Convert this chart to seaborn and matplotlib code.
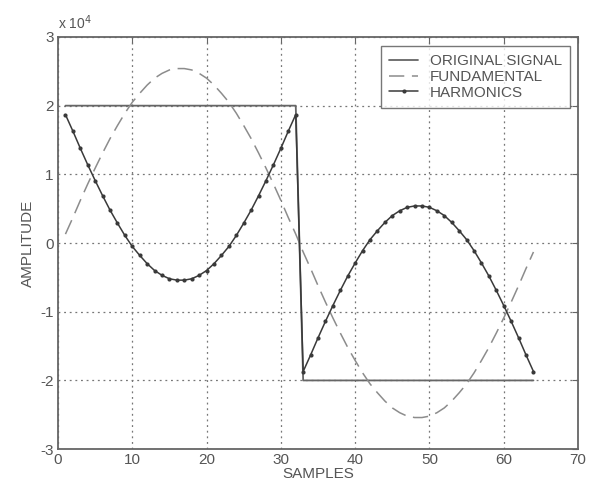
import matplotlib
matplotlib.use("Agg")
import matplotlib.pyplot as plt
import seaborn as sns
import pandas as pd
import numpy as np
from matplotlib.ticker import FuncFormatter

samples = list(range(1, 65))
original = [2.0] * 32 + [-2.0] * 32
fundamental = [0.13, 0.37, 0.62, 0.86, 1.09, 1.31, 1.52, 1.71, 1.89, 2.05, 2.18, 2.30,
               2.40, 2.47, 2.52, 2.54, 2.54, 2.52, 2.47, 2.40, 2.30, 2.18, 2.05, 1.89,
               1.71, 1.52, 1.31, 1.09, 0.86, 0.62, 0.37, 0.13,
               -0.13, -0.37, -0.62, -0.86, -1.09, -1.31, -1.52, -1.71, -1.89, -2.05, -2.18, -2.30,
               -2.40, -2.47, -2.52, -2.54, -2.54, -2.52, -2.47, -2.40, -2.30, -2.18, -2.05, -1.89,
               -1.71, -1.52, -1.31, -1.09, -0.86, -0.62, -0.37, -0.13]
harmonics = [1.87, 1.63, 1.38, 1.14, 0.91, 0.69, 0.48, 0.29, 0.11, -0.05, -0.18, -0.30,
             -0.40, -0.47, -0.52, -0.54, -0.54, -0.52, -0.47, -0.40, -0.30, -0.18, -0.05, 0.11,
             0.29, 0.48, 0.69, 0.91, 1.14, 1.38, 1.63, 1.87,
             -1.87, -1.63, -1.38, -1.14, -0.91, -0.69, -0.48, -0.29, -0.11, 0.05, 0.18, 0.30,
             0.40, 0.47, 0.52, 0.54, 0.54, 0.52, 0.47, 0.40, 0.30, 0.18, 0.05, -0.11,
             -0.29, -0.48, -0.69, -0.91, -1.14, -1.38, -1.63, -1.87]
scale = 1e4

df = pd.DataFrame({
    "SAMPLES": samples,
    "orig": np.array(original) * scale,
    "fund": np.array(fundamental) * scale,
    "harm": np.array(harmonics) * scale,
})

sns.set_style("white")
plt.rcParams["font.family"] = ["Liberation Sans", "DejaVu Sans"]
plt.rcParams["axes.unicode_minus"] = False

fig = plt.figure(figsize=(5.95, 4.93), dpi=100)
ax = fig.add_axes([0.0975, 0.089, 0.874, 0.836])

sns.lineplot(data=df, x="SAMPLES", y="orig", ax=ax, color="#666666", lw=1.3,
             label="ORIGINAL SIGNAL")
sns.lineplot(data=df, x="SAMPLES", y="fund", ax=ax, color="#8c8c8c", lw=1.1,
             dashes=False, linestyle=(0, (10, 5)), label="FUNDAMENTAL")
sns.lineplot(data=df, x="SAMPLES", y="harm", ax=ax, color="#3a3a3a", lw=1.1,
             marker="o", markersize=3, markeredgewidth=0, label="HARMONICS")

ax.set_xlim(0, 70)
ax.set_ylim(-3e4, 3e4)
ax.set_xticks(range(0, 71, 10))
ax.set_yticks(np.arange(-3, 4, 1) * scale)
ax.yaxis.set_major_formatter(FuncFormatter(lambda v, p: f"{v / scale:.0f}"))
ax.text(0.0, 1.012, "x 10$^{4}$", transform=ax.transAxes, fontsize=10,
        color="#555555", ha="left", va="bottom")

ax.grid(True, color="#777777", linestyle=(0, (1.5, 3)), linewidth=0.9)
for s in ax.spines.values():
    s.set_visible(True)
    s.set_color("#666666")
    s.set_linewidth(1.3)
ax.tick_params(direction="in", length=4, width=0.8, colors="#666666",
               labelcolor="#555555", labelsize=11, top=True, right=True, pad=3)
ax.set_xlabel("SAMPLES", fontsize=11, color="#555555", labelpad=0)
ax.set_ylabel("AMPLITUDE", fontsize=11, color="#555555", labelpad=4)

leg = ax.legend(loc="upper right", bbox_to_anchor=(0.985, 0.978), fontsize=11,
                frameon=True, fancybox=False, borderpad=0.55, labelspacing=0.1,
                handlelength=1.9, handletextpad=0.75, borderaxespad=0.0)
leg.get_frame().set_edgecolor("#555555")
leg.get_frame().set_linewidth(1.0)
for t in leg.get_texts():
    t.set_color("#555555")

fig.savefig("out.png", dpi=100)
